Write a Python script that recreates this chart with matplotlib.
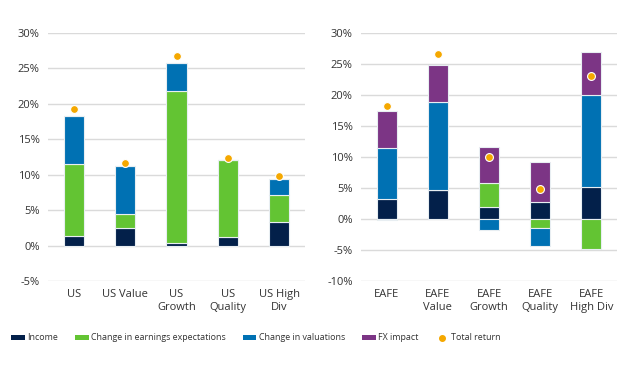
import numpy as np
import matplotlib
matplotlib.use('Agg')
import matplotlib.pyplot as plt
from matplotlib.patches import Patch
from matplotlib.lines import Line2D

plt.rcParams['font.family'] = ['Open Sans', 'DejaVu Sans']

# DATA

us_labels = ['US', 'US Value', 'US\nGrowth', 'US\nQuality', 'US High\nDiv']
us_income = [1.4, 2.5, 0.4, 1.2, 3.3]
us_earnings = [10.1, 1.9, 21.4, 10.9, 3.9]
us_valuation = [6.8, 6.8, 3.9, 0.0, 2.2]
us_fx = [0.0, 0.0, 0.0, 0.0, 0.0]
us_total = [19.3, 11.6, 26.7, 12.3, 9.8]

eafe_labels = ['EAFE', 'EAFE\nValue', 'EAFE\nGrowth', 'EAFE\nQuality', 'EAFE\nHigh Div']
eafe_income = [3.3, 4.7, 2.0, 2.7, 5.2]
eafe_earnings = [-0.1, 0.0, 3.8, -1.4, -4.8]
eafe_valuation = [8.2, 14.1, -1.8, -2.9, 14.8]
eafe_fx = [5.9, 6.0, 5.8, 6.5, 7.0]
eafe_total = [18.2, 26.6, 10.0, 4.8, 23.0]

names = ['Income', 'Change in earnings expectations', 'Change in valuations', 'FX impact']
colors = ['#03204A', '#63C433', '#0071B3', '#7C3585']
dot_color = '#F5A800'


def draw(ax, labels, series, total, ylim, yticks):
    x = np.arange(len(labels))
    pos = np.zeros(len(labels))
    neg = np.zeros(len(labels))
    for vals, c in zip(series, colors):
        vals = np.array(vals)
        bottom = np.where(vals >= 0, pos, neg)
        ax.bar(x, vals, 0.39, bottom=bottom, color=c, edgecolor='#E8EEF2',
               linewidth=0.8, zorder=3)
        pos = pos + np.where(vals > 0, vals, 0)
        neg = neg + np.where(vals < 0, vals, 0)
    ax.scatter(x, total, s=32, color=dot_color, edgecolor='white',
               linewidth=0.8, zorder=4)
    ax.set_ylim(*ylim)
    ax.set_yticks(yticks)
    ax.set_yticklabels([f'{t}%' for t in yticks])
    ax.set_xticks(x)
    ax.set_xticklabels(labels, linespacing=1.25)
    ax.set_xlim(-0.5, len(labels) - 0.5)
    ax.grid(axis='y', color='#DADADA', linewidth=1, zorder=0)
    for s in ax.spines.values():
        s.set_visible(False)
    ax.tick_params(length=0, labelsize=8, colors='#333333', pad=6)


# PLOTTING GRAPH

fig = plt.figure(figsize=(6.43, 3.67), dpi=100)
ax1 = fig.add_axes([48 / 643, 1 - 281 / 367, 257 / 643, 248 / 367])
ax2 = fig.add_axes([361 / 643, 1 - 281 / 367, 256 / 643, 248 / 367])

draw(ax1, us_labels, [us_income, us_earnings, us_valuation, us_fx], us_total,
     (-5, 30), list(range(-5, 31, 5)))
draw(ax2, eafe_labels, [eafe_income, eafe_earnings, eafe_valuation, eafe_fx], eafe_total,
     (-10, 30), list(range(-10, 31, 5)))

handles = [Patch(facecolor=c, label=n) for c, n in zip(colors, names)]
handles.append(Line2D([], [], marker='o', linestyle='none', color=dot_color,
                      markersize=4, label='Total return'))
fig.legend(handles=handles, loc='center', bbox_to_anchor=(256 / 643, 1 - 338 / 367),
           ncol=5, frameon=False, fontsize=6.4, handlelength=1.55, handleheight=0.55,
           handletextpad=0.25, columnspacing=1.9, labelcolor='#333333',
           borderaxespad=0, borderpad=0)

fig.savefig('out.png', dpi=100)
